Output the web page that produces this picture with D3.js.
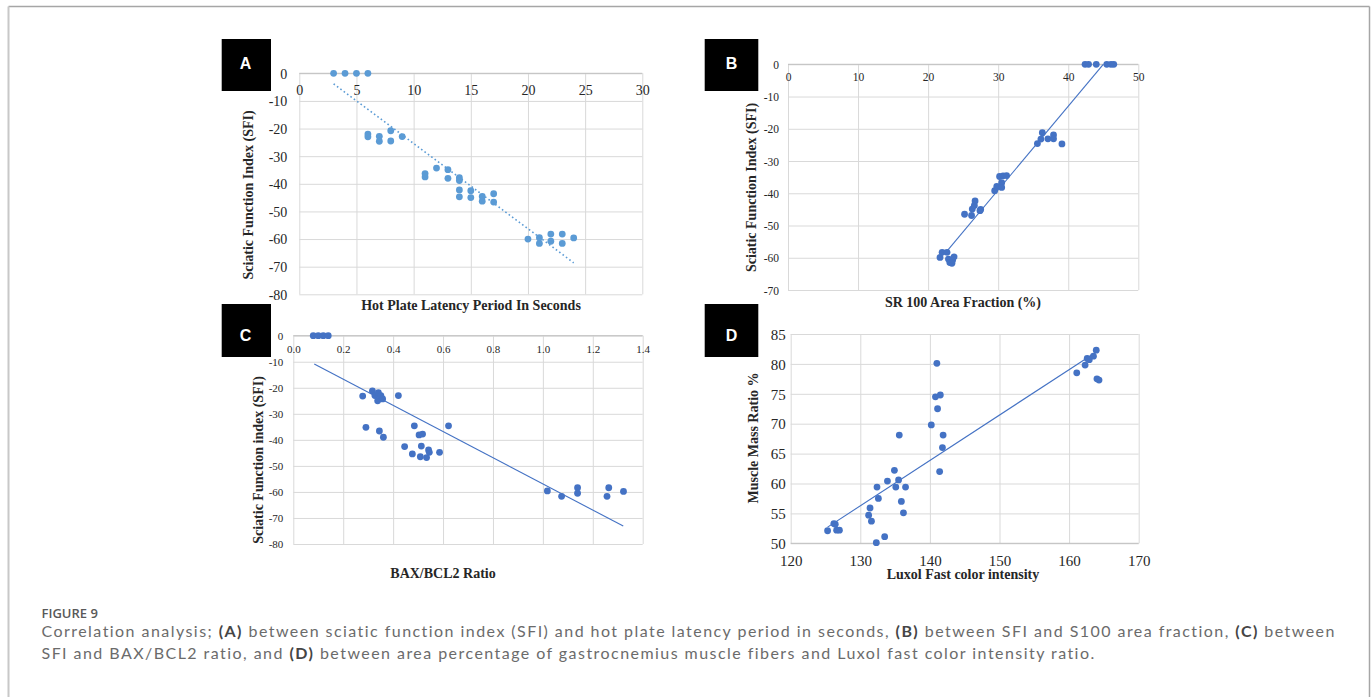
<!DOCTYPE html>
<html>
<head>
<meta charset="utf-8">
<script src="https://cdn.jsdelivr.net/npm/d3@7"></script>
<style>
  body { margin: 0; background: #fff; }
  svg { display: block; }
</style>
</head>
<body>
<script>
// ---- panel A: hot plate latency (s) vs SFI
var aLatency = [3, 4, 5, 6, 6, 6, 7, 7, 8, 8, 9,
  11, 11, 12, 13, 13, 14, 14, 14, 14, 15, 15, 16, 16, 17, 17,
  20, 21, 21, 22, 22, 23, 23, 24];
var aSFI = [0, 0, 0, 0, -22, -23, -22.8, -24.6, -20.8, -24.5, -22.9,
  -36.3, -37.5, -34.3, -34.9, -38, -37.8, -38.8, -42.2, -44.7, -42.5, -45, -44.6, -46.3, -43.6, -46.6,
  -60, -59.5, -61.6, -58.2, -60.8, -58.2, -61.6, -59.6];
var aTrendX = [3, 24], aTrendY = [-3.8, -68.6];
var aXTicks = [0, 5, 10, 15, 20, 25, 30];
var aYTicks = [0, -10, -20, -30, -40, -50, -60, -70, -80];

// ---- panel B: S100 area fraction (%) vs SFI
var bArea = [42.4, 42.9, 44.0, 45.5, 46.1, 46.5,
  21.7, 22.0, 22.7, 22.9, 23.1, 23.4, 23.5, 23.7,
  25.2, 26.2, 26.3, 26.6, 26.7, 27.5, 27.4,
  29.5, 29.8, 30.2, 30.5, 30.5, 30.7, 31.2,
  35.6, 36.1, 36.3, 37.1, 37.9, 37.9, 39.1];
var bSFI = [0, 0, 0, 0, 0, 0,
  -59.9, -58.3, -58.3, -60.4, -61.5, -61.7, -60.7, -59.7,
  -46.5, -46.9, -44.9, -43.8, -42.4, -45.0, -45.4,
  -39.2, -37.9, -34.8, -36.7, -38.2, -34.6, -34.5,
  -24.6, -23.2, -21.2, -23.1, -21.9, -23.1, -24.7];
var bTrendX = [22.6, 45.0], bTrendY = [-58.2, 0];
var bXTicks = [0, 10, 20, 30, 40, 50];
var bYTicks = [0, -10, -20, -30, -40, -50, -60, -70];

// ---- panel C: BAX/BCL2 ratio vs SFI
var cRatio = [0.08, 0.10, 0.12, 0.14,
  0.278, 0.291, 0.317, 0.327, 0.341, 0.338, 0.351, 0.358, 0.345, 0.361,
  0.421, 0.446, 0.477, 0.485, 0.504, 0.518, 0.513, 0.509, 0.534, 0.542, 0.545,
  0.586, 0.622, 1.018, 1.075, 1.139, 1.139, 1.257, 1.264, 1.323];
var cSFI = [0, 0, 0, 0,
  -23.2, -35.2, -21.2, -23.0, -21.9, -25.0, -23.0, -24.3, -36.6, -39.0,
  -23.0, -42.6, -45.4, -34.6, -38.1, -37.8, -42.4, -46.5, -46.8, -43.9, -44.8,
  -44.8, -34.6, -59.6, -61.7, -58.4, -60.5, -61.7, -58.4, -59.8];
var cTrendX = [0.084, 1.322], cTrendY = [-10.9, -73.1];
var cXTicks = [0, 0.2, 0.4, 0.6, 0.8, 1.0, 1.2, 1.4];
var cYTicks = [0, -10, -20, -30, -40, -50, -60, -70, -80];

// ---- panel D: Luxol fast colour intensity vs muscle mass ratio
var dLuxol = [125.3, 126.2, 126.4, 126.6, 127.0, 131.2, 131.4, 131.6, 132.3, 132.4,
  132.6, 133.5, 133.9, 134.9, 135.1, 135.5, 135.6, 135.9, 136.2, 136.5,
  140.2, 140.8, 141.1, 141.0, 141.4, 141.5, 141.8, 141.9,
  161.1, 162.3, 162.6, 162.9, 163.5, 163.9, 164.0, 164.3];
var dMuscle = [52.1, 53.3, 53.2, 52.2, 52.2, 54.7, 55.9, 53.7, 50.1, 59.4,
  57.5, 51.1, 60.4, 62.2, 59.4, 60.6, 68.1, 57.0, 55.1, 59.4,
  69.8, 74.5, 72.5, 80.1, 62.0, 74.8, 66.0, 68.1,
  78.5, 79.8, 80.9, 80.7, 81.3, 82.3, 77.5, 77.3];
var dTrendX = [125.3, 163.9], dTrendY = [52.7, 82.0];
var dXTicks = [120, 130, 140, 150, 160, 170];
var dYTicks = [50, 55, 60, 65, 70, 75, 80, 85];

var W = 1372, H = 697;
var serif = "'Liberation Serif', 'Times New Roman', serif";

// plain hyphen for negatives, like the original figure
function hyphen(f) {
  return function(d) { return f(d).replace("\u2212", "-"); };
}

var svg = d3.select("body").append("svg")
  .attr("width", W)
  .attr("height", H);

svg.append("rect").attr("width", W).attr("height", H).attr("fill", "#fff");

// frame round the figure
svg.append("line").attr("x1", 8.5).attr("x2", 1369.5).attr("y1", 6.5).attr("y2", 6.5)
  .attr("stroke", "#a6a6a6").attr("stroke-width", 1.5);
svg.append("line").attr("x1", 8.5).attr("x2", 8.5).attr("y1", 6.5).attr("y2", H)
  .attr("stroke", "#c8c8c8").attr("stroke-width", 2);
svg.append("line").attr("x1", 1369.5).attr("x2", 1369.5).attr("y1", 6.5).attr("y2", H)
  .attr("stroke", "#a6a6a6").attr("stroke-width", 1.5);

var panels = [
  { id: "A", xs: aLatency, ys: aSFI, tx: aTrendX, ty: aTrendY,
    xTicks: aXTicks, yTicks: aYTicks, xDom: [0, 30], yDom: [-80, 0], fmt: d3.format("d"),
    left: 299.3, right: 642.3, top: 73.3, bottom: 294.3, axisAt: 0,
    box: [221.7, 39, 49.3, 52], letter: [245.5, 63.5],
    xLabOff: 17, yLabGap: 12, tickFont: 14,
    xTitle: "Hot Plate Latency Period In Seconds", xTitlePos: [471, 305],
    yTitle: "Sciatic Function Index (SFI)", yTitlePos: [248, 195],
    color: "#5B9BD5", dash: "1.6,2.6", trendWidth: 1.6 },
  { id: "B", xs: bArea, ys: bSFI, tx: bTrendX, ty: bTrendY,
    xTicks: bXTicks, yTicks: bYTicks, xDom: [0, 50], yDom: [-70, 0], fmt: d3.format("d"),
    left: 788, right: 1138.3, top: 64.3, bottom: 290, axisAt: 0,
    box: [704.7, 39, 53.6, 52], letter: [731.5, 63.5],
    xLabOff: 13, yLabGap: 9, tickFont: 11.5,
    xTitle: "SR 100 Area Fraction (%)", xTitlePos: [963, 302],
    yTitle: "Sciatic Function Index (SFI)", yTitlePos: [751, 187.5],
    color: "#4472C4", dash: null, trendWidth: 1.1 },
  { id: "C", xs: cRatio, ys: cSFI, tx: cTrendX, ty: cTrendY,
    xTicks: cXTicks, yTicks: cYTicks, xDom: [0, 1.4], yDom: [-80, 0], fmt: d3.format(".1f"),
    left: 293.3, right: 642.7, top: 335.7, bottom: 544, axisAt: 0,
    box: [221.7, 304, 49.3, 53], letter: [245.5, 335],
    xLabOff: 13.6, yLabGap: 10, tickFont: 11,
    xTitle: "BAX/BCL2 Ratio", xTitlePos: [443, 573],
    yTitle: "Sciatic Function index (SFI)", yTitlePos: [258, 460],
    color: "#4472C4", dash: null, trendWidth: 1.1 },
  { id: "D", xs: dLuxol, ys: dMuscle, tx: dTrendX, ty: dTrendY,
    xTicks: dXTicks, yTicks: dYTicks, xDom: [120, 170], yDom: [50, 85], fmt: d3.format("d"),
    left: 790.7, right: 1138.7, top: 334, bottom: 543.3, axisAt: 50,
    box: [704.7, 304, 53.6, 53], letter: [731.5, 335.5],
    xLabOff: 17.7, yLabGap: 5, tickFont: 15,
    xTitle: "Luxol Fast color intensity", xTitlePos: [963, 574],
    yTitle: "Muscle Mass Ratio %", yTitlePos: [753, 438],
    color: "#4472C4", dash: null, trendWidth: 1.1 }
];

panels.forEach(function(p) {
  var x = d3.scaleLinear().domain(p.xDom).range([p.left, p.right]);
  var y = d3.scaleLinear().domain(p.yDom).range([p.bottom, p.top]);
  var g = svg.append("g").attr("class", "panel-" + p.id);

  // gridlines
  g.append("g")
    .attr("transform", "translate(0," + p.bottom + ")")
    .call(d3.axisBottom(x).tickValues(p.xTicks).tickSize(-(p.bottom - p.top)).tickFormat(""))
    .call(function(s) { s.select(".domain").remove(); })
    .selectAll("line").attr("stroke", "#d9d9d9").attr("stroke-width", 1);
  g.append("g")
    .attr("transform", "translate(" + p.left + ",0)")
    .call(d3.axisLeft(y).tickValues(p.yTicks).tickSize(-(p.right - p.left)).tickFormat(""))
    .call(function(s) { s.select(".domain").remove(); })
    .selectAll("line").attr("stroke", "#d9d9d9").attr("stroke-width", 1);

  // horizontal axis line
  g.append("line")
    .attr("x1", p.left).attr("x2", p.right)
    .attr("y1", y(p.axisAt)).attr("y2", y(p.axisAt))
    .attr("stroke", "#bfbfbf").attr("stroke-width", 1);

  // x tick labels, sitting just under the axis line
  var xa = g.append("g")
    .attr("transform", "translate(0," + y(p.axisAt) + ")")
    .call(d3.axisBottom(x).tickValues(p.xTicks).tickSize(0).tickFormat(hyphen(p.fmt)))
    .attr("font-family", serif)
    .attr("font-size", p.tickFont);
  xa.select(".domain").remove();
  xa.selectAll("text")
    .attr("y", p.xLabOff).attr("dy", "0.35em")
    .attr("font-family", serif)
    .attr("font-size", p.tickFont).attr("fill", "#262626");

  var ya = g.append("g")
    .attr("transform", "translate(" + p.left + ",0)")
    .call(d3.axisLeft(y).tickValues(p.yTicks).tickSize(0).tickPadding(p.yLabGap).tickFormat(hyphen(d3.format("d"))))
    .attr("font-family", serif)
    .attr("font-size", p.tickFont);
  ya.select(".domain").remove();
  ya.selectAll("text")
    .attr("dy", "0.35em")
    .attr("font-family", serif)
    .attr("font-size", p.tickFont).attr("fill", "#262626");

  // trendline
  var trend = g.append("line")
    .attr("x1", x(p.tx[0])).attr("y1", y(p.ty[0]))
    .attr("x2", x(p.tx[1])).attr("y2", y(p.ty[1]))
    .attr("stroke", p.color)
    .attr("stroke-width", p.trendWidth);
  if (p.dash) trend.attr("stroke-dasharray", p.dash);

  // points
  g.append("g").selectAll("circle")
    .data(p.xs.map(function(v, i) { return [v, p.ys[i]]; }))
    .enter()
    .append("circle")
    .attr("cx", function(d) { return x(d[0]); })
    .attr("cy", function(d) { return y(d[1]); })
    .attr("r", 3.4)
    .attr("fill", p.color);

  // axis titles
  g.append("text")
    .attr("x", p.xTitlePos[0]).attr("y", p.xTitlePos[1]).attr("dy", "0.35em")
    .attr("text-anchor", "middle")
    .attr("font-family", serif)
    .attr("font-weight", "bold").attr("font-size", 14).attr("fill", "#262626")
    .text(p.xTitle);
  g.append("text")
    .attr("transform", "translate(" + p.yTitlePos[0] + "," + p.yTitlePos[1] + ") rotate(-90)")
    .attr("dy", "0.35em")
    .attr("text-anchor", "middle")
    .attr("font-family", serif)
    .attr("font-weight", "bold").attr("font-size", 14).attr("fill", "#262626")
    .text(p.yTitle);

  // black letter box
  g.append("rect")
    .attr("x", p.box[0]).attr("y", p.box[1])
    .attr("width", p.box[2]).attr("height", p.box[3])
    .attr("fill", "#000");
  g.append("text")
    .attr("x", p.letter[0]).attr("y", p.letter[1]).attr("dy", "0.36em")
    .attr("text-anchor", "middle")
    .attr("font-family", "'Liberation Sans', Arial, sans-serif")
    .attr("font-weight", "bold").attr("font-size", 16).attr("fill", "#fff")
    .text(p.id);
});

// ---- caption
var captionLines = [
  [["Correlation analysis; ", false], ["(A)", true],
   [" between sciatic function index (SFI) and hot plate latency period in seconds, ", false],
   ["(B)", true], [" between SFI and S100 area fraction, ", false], ["(C)", true], [" between", false]],
  [["SFI and BAX/BCL2 ratio, and ", false], ["(D)", true],
   [" between area percentage of gastrocnemius muscle fibers and Luxol fast color intensity ratio.", false]]
];

svg.append("text")
  .attr("x", 41.5).attr("y", 617.5)
  .attr("font-family", "'Open Sans', sans-serif")
  .attr("font-weight", 600).attr("font-size", 13).attr("fill", "#595959")
  .text("FIGURE 9");

var caps = captionLines.map(function(parts, li) {
  var t = svg.append("text")
    .attr("x", 41.5).attr("y", 637 + li * 21.5)
    .attr("font-family", "Lato, 'Open Sans', sans-serif")
    .attr("font-size", 16).attr("fill", "#6b6b6b");
  parts.forEach(function(pt) {
    t.append("tspan")
      .attr("font-weight", pt[1] ? "bold" : null)
      .attr("fill", pt[1] ? "#454545" : null)
      .text(pt[0]);
  });
  return t;
});
// spread the first caption line to the width it has in the figure
var line1 = captionLines[0].map(function(pt) { return pt[0]; }).join("");
var w0 = caps[0].node().getComputedTextLength();
var spacing = (1294 - w0) / (line1.length - 1);
caps.forEach(function(t) { t.attr("letter-spacing", spacing); });
</script>
</body>
</html>
